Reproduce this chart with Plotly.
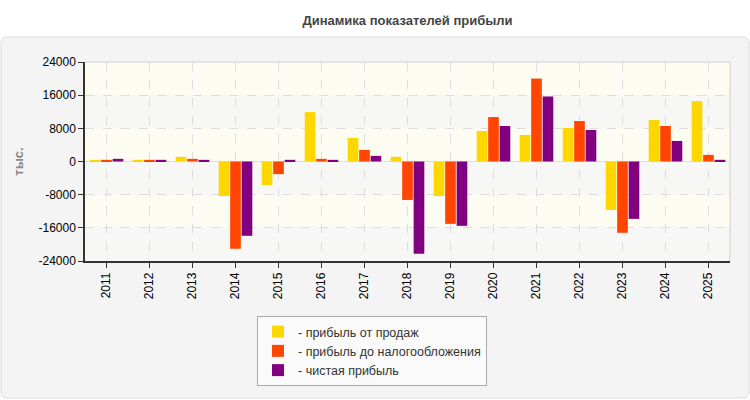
import plotly.graph_objects as go

years = ["2011", "2012", "2013", "2014", "2015", "2016", "2017", "2018",
         "2019", "2020", "2021", "2022", "2023", "2024", "2025"]
sales_profit = [400, 400, 1120, -8320, -5680, 11920, 5680, 1120,
                -8320, 7360, 6400, 8080, -11680, 10000, 14560]
pretax_profit = [400, 400, 640, -21040, -3040, 640, 2800, -9280,
                 -15040, 10720, 20000, 9760, -17200, 8560, 1600]
net_profit = [640, 400, 400, -17920, 400, 400, 1360, -22240,
              -15520, 8560, 15680, 7600, -13840, 4960, 400]
series_names = ["- прибыль от продаж", "- прибыль до налогообложения", "- чистая прибыль"]
series_colors = ["#FFD700", "#FF4500", "#800080"]
y_ticks = [24000, 16000, 8000, 0, -8000, -16000, -24000]

W, H = 750, 400
L, R, T, B = 85, 20, 62, 139
pw, ph = W - L - R, H - T - B

def px_x(px):
    return (px - L) / pw

def px_y(py):
    return (H - B - py) / ph

fig = go.Figure()
for name, vals, col in zip(series_names, [sales_profit, pretax_profit, net_profit], series_colors):
    fig.add_trace(go.Bar(x=years, y=vals, name=name, marker=dict(color=col, line=dict(width=0))))

shapes = []
# outer rounded panel
x0, x1, y0, y1, r = px_x(1), px_x(749), px_y(37), px_y(398), 6
rx = r / pw
ry = r / ph
path = (f"M {x0+rx},{y0} L {x1-rx},{y0} Q {x1},{y0} {x1},{y0-ry} "
        f"L {x1},{y1+ry} Q {x1},{y1} {x1-rx},{y1} L {x0+rx},{y1} "
        f"Q {x0},{y1} {x0},{y1+ry} L {x0},{y0-ry} Q {x0},{y0} {x0+rx},{y0} Z")
shapes.append(dict(type="path", path=path, xref="paper", yref="paper",
                   fillcolor="#f4f4f4", line=dict(color="#dcdcdc", width=1), layer="below"))
# alternating bands
bands = [(16000, 24000, "#fcfcf2"), (8000, 16000, "#f7f7f5"), (0, 8000, "#fcfcf2"),
         (-8000, 0, "#f7f7f5"), (-16000, -8000, "#fcfcf2"), (-24000, -16000, "#f7f7f5")]
for b0, b1, c in bands:
    shapes.append(dict(type="rect", xref="paper", yref="y", x0=0, x1=1, y0=b0, y1=b1,
                       fillcolor=c, line=dict(width=0), layer="below"))
# light border on top/right
shapes.append(dict(type="path", xref="paper", yref="paper", path="M 0,1 L 1,1 L 1,0",
                   line=dict(color="#dddddd", width=1.5), layer="below"))

fig.update_layout(
    width=W, height=H,
    margin=dict(l=L, r=R, t=T, b=B),
    paper_bgcolor="white",
    plot_bgcolor="rgba(0,0,0,0)",
    barmode="group", bargap=0.2, bargroupgap=0.07,
    font=dict(family="Arial", size=12, color="#000"),
    title=dict(text="<b>Динамика показателей прибыли</b>", x=0.5, xref="paper",
               xanchor="center", y=1 - 20 / H, yanchor="middle",
               font=dict(size=13, color="#444")),
    shapes=shapes,
    showlegend=True,
    legend=dict(x=px_x(257), y=px_y(316), xanchor="left", yanchor="top",
                bgcolor="#fafafa", bordercolor="#aaaaaa", borderwidth=1,
                font=dict(size=12.5, color="#333"), traceorder="normal",
                itemsizing="constant", tracegroupgap=0, itemwidth=30),
    xaxis=dict(tickangle=-90, showgrid=True, gridcolor="#dddddd", griddash="dash",
               showline=True, linecolor="#333", linewidth=1.5, ticks="outside",
               ticklen=5, tickcolor="#333", tickfont=dict(size=12, color="#000"),
               range=[-0.5, 14.5]),
    yaxis=dict(range=[-24000, 24000], tickvals=y_ticks, ticktext=[str(v) for v in y_ticks],
               showgrid=True, gridcolor="#dddddd", griddash="dash", zeroline=True,
               zerolinecolor="#dddddd", zerolinewidth=1,
               showline=True, linecolor="#333", linewidth=1.5, ticks="outside",
               ticklen=5, tickcolor="#333", tickfont=dict(size=12, color="#000"),
               title=dict(text="<b>тыс.</b>", font=dict(size=13, color="#888"), standoff=12)),
)

fig.write_html("out.html")
